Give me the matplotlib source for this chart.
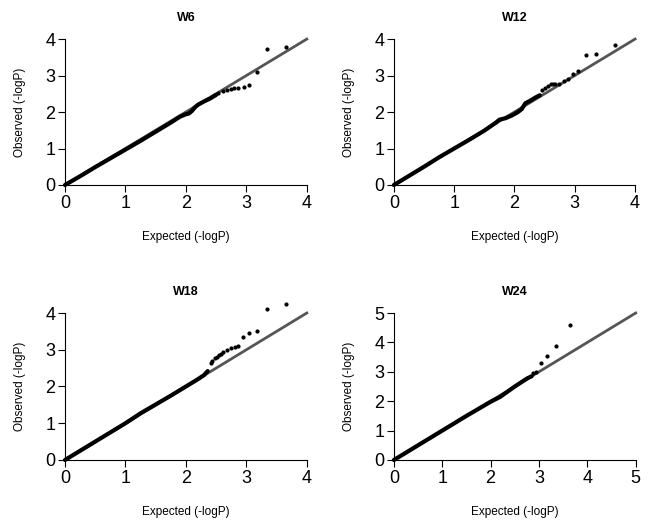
import matplotlib
matplotlib.use("Agg")
from matplotlib import pyplot as plt

plt.rcParams['font.family'] = ['Liberation Sans', 'DejaVu Sans']

# ---- data (expected vs observed -logP) ----
# dense body of each QQ curve
w6_body_exp = [0, 0.25, 0.5, 0.75, 1.0, 1.25, 1.5, 1.75, 1.9, 2.0, 2.05, 2.1, 2.15, 2.2, 2.3, 2.4, 2.5]
w6_body_obs = [0, 0.24, 0.49, 0.73, 0.97, 1.21, 1.46, 1.71, 1.87, 1.94, 1.96, 2.03, 2.13, 2.2, 2.29, 2.37, 2.47]
w6_tail_exp = [2.53, 2.62, 2.68, 2.74, 2.79, 2.87, 2.96, 3.04, 3.18, 3.34, 3.65]
w6_tail_obs = [2.51, 2.57, 2.60, 2.62, 2.65, 2.67, 2.69, 2.74, 3.11, 3.72, 3.77]

w12_body_exp = [0, 0.25, 0.5, 0.75, 1.0, 1.25, 1.5, 1.7, 1.75, 1.85, 1.95, 2.05, 2.12, 2.18, 2.25, 2.35, 2.42]
w12_body_obs = [0, 0.25, 0.5, 0.76, 1.0, 1.24, 1.49, 1.72, 1.79, 1.83, 1.90, 1.99, 2.08, 2.24, 2.30, 2.40, 2.46]
w12_tail_exp = [2.45, 2.5, 2.56, 2.6, 2.64, 2.68, 2.74, 2.82, 2.89, 2.97, 3.06, 3.18, 3.35, 3.66]
w12_tail_obs = [2.60, 2.66, 2.72, 2.76, 2.78, 2.78, 2.78, 2.84, 2.90, 3.03, 3.12, 3.55, 3.58, 3.84]

w18_body_exp = [0, 0.25, 0.5, 0.75, 1.0, 1.25, 1.5, 1.75, 2.0, 2.2, 2.3, 2.36]
w18_body_obs = [0, 0.25, 0.5, 0.75, 1.0, 1.27, 1.51, 1.75, 2.0, 2.2, 2.31, 2.42]
w18_tail_exp = [2.41, 2.44, 2.48, 2.51, 2.55, 2.58, 2.62, 2.68, 2.75, 2.81, 2.86, 2.95, 3.05, 3.18, 3.34, 3.65]
w18_tail_obs = [2.63, 2.70, 2.77, 2.80, 2.86, 2.89, 2.93, 2.99, 3.06, 3.07, 3.10, 3.36, 3.46, 3.52, 4.11, 4.24]

w24_body_exp = [0, 0.5, 1.0, 1.5, 2.0, 2.2, 2.5, 2.75, 2.85]
w24_body_obs = [0, 0.5, 1.0, 1.5, 1.98, 2.15, 2.5, 2.77, 2.85]
w24_tail_exp = [2.87, 2.93, 3.05, 3.17, 3.35, 3.64]
w24_tail_obs = [2.95, 3.00, 3.31, 3.55, 3.89, 4.59]

titles = ['W6', 'W12', 'W18', 'W24']
limits = [4, 4, 4, 5]
panels = [
    (w6_body_exp, w6_body_obs, w6_tail_exp, w6_tail_obs),
    (w12_body_exp, w12_body_obs, w12_tail_exp, w12_tail_obs),
    (w18_body_exp, w18_body_obs, w18_tail_exp, w18_tail_obs),
    (w24_body_exp, w24_body_obs, w24_tail_exp, w24_tail_obs),
]

fig = plt.figure(figsize=(6.5, 5.23), dpi=100)
# axes rectangles in figure fraction
boxes = [
    [0.100, 0.6463, 0.372, 0.279],
    [0.606, 0.6463, 0.371, 0.279],
    [0.100, 0.1205, 0.372, 0.281],
    [0.606, 0.1205, 0.372, 0.281],
]

for box, title, lim, (bx, by, tx, ty) in zip(boxes, titles, limits, panels):
    ax = fig.add_axes(box)
    ax.set_xlim(0, lim)
    ax.set_ylim(0, lim)
    ax.spines['top'].set_visible(False)
    ax.spines['right'].set_visible(False)
    ax.spines['left'].set_linewidth(0.8)
    ax.spines['bottom'].set_linewidth(0.8)
    ax.set_xticks(range(lim + 1))
    ax.set_yticks(range(lim + 1))
    ax.tick_params(labelsize=13, length=5, width=0.8, pad=2)

    # reference diagonal
    ax.plot([0, lim], [0, lim], color='#555555', linewidth=2, clip_on=False, zorder=2)
    # dense part of the curve
    ax.plot(bx, by, color='black', linewidth=3, solid_capstyle='round', clip_on=False, zorder=3)
    # sparse tail points
    ax.scatter(tx, ty, s=4, color='black', marker='o', clip_on=False, zorder=4)

    ax.set_title(title, fontsize=9, fontweight='bold', pad=13)
    ax.set_xlabel('Expected (-logP)', fontsize=8.5, labelpad=14)
    ax.set_ylabel('Observed (-logP)', fontsize=8.5, labelpad=14)

fig.savefig('out.png', dpi=100)
